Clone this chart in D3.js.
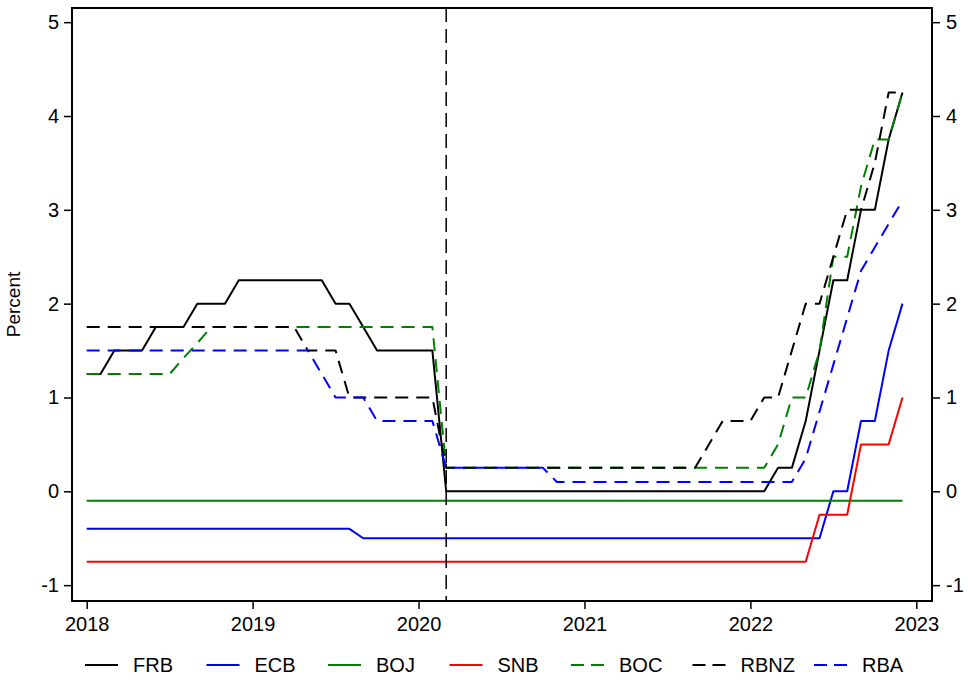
<!DOCTYPE html>
<html>
<head>
<meta charset="utf-8">
<script src="https://cdn.jsdelivr.net/npm/d3@7"></script>
<style>
body { margin: 0; background: #fff; }
svg { font-family: "Liberation Sans", Arial, sans-serif; }
</style>
</head>
<body>
<svg id="chart" width="968" height="686"></svg>
<script>
// monthly, Jan 2018 - Dec 2022
var startYear = 2018
var yearTicks = [2018, 2019, 2020, 2021, 2022, 2023]
var pctTicks = [-1, 0, 1, 2, 3, 4, 5]
var markerDate = 2020 + 2 / 12   // March 2020

var frb = [1.25,1.25,1.5,1.5,1.5,1.75,1.75,1.75,2.0,2.0,2.0,2.25,
  2.25,2.25,2.25,2.25,2.25,2.25,2.0,2.0,1.75,1.5,1.5,1.5,
  1.5,1.5,0,0,0,0,0,0,0,0,0,0,
  0,0,0,0,0,0,0,0,0,0,0,0,
  0,0,0.25,0.25,0.75,1.5,2.25,2.25,3.0,3.0,3.75,4.25]
var ecb = [-0.4,-0.4,-0.4,-0.4,-0.4,-0.4,-0.4,-0.4,-0.4,-0.4,-0.4,-0.4,
  -0.4,-0.4,-0.4,-0.4,-0.4,-0.4,-0.4,-0.4,-0.5,-0.5,-0.5,-0.5,
  -0.5,-0.5,-0.5,-0.5,-0.5,-0.5,-0.5,-0.5,-0.5,-0.5,-0.5,-0.5,
  -0.5,-0.5,-0.5,-0.5,-0.5,-0.5,-0.5,-0.5,-0.5,-0.5,-0.5,-0.5,
  -0.5,-0.5,-0.5,-0.5,-0.5,-0.5,0,0,0.75,0.75,1.5,2.0]
var boj = [-0.1,-0.1,-0.1,-0.1,-0.1,-0.1,-0.1,-0.1,-0.1,-0.1,-0.1,-0.1,
  -0.1,-0.1,-0.1,-0.1,-0.1,-0.1,-0.1,-0.1,-0.1,-0.1,-0.1,-0.1,
  -0.1,-0.1,-0.1,-0.1,-0.1,-0.1,-0.1,-0.1,-0.1,-0.1,-0.1,-0.1,
  -0.1,-0.1,-0.1,-0.1,-0.1,-0.1,-0.1,-0.1,-0.1,-0.1,-0.1,-0.1,
  -0.1,-0.1,-0.1,-0.1,-0.1,-0.1,-0.1,-0.1,-0.1,-0.1,-0.1,-0.1]
var snb = [-0.75,-0.75,-0.75,-0.75,-0.75,-0.75,-0.75,-0.75,-0.75,-0.75,-0.75,-0.75,
  -0.75,-0.75,-0.75,-0.75,-0.75,-0.75,-0.75,-0.75,-0.75,-0.75,-0.75,-0.75,
  -0.75,-0.75,-0.75,-0.75,-0.75,-0.75,-0.75,-0.75,-0.75,-0.75,-0.75,-0.75,
  -0.75,-0.75,-0.75,-0.75,-0.75,-0.75,-0.75,-0.75,-0.75,-0.75,-0.75,-0.75,
  -0.75,-0.75,-0.75,-0.75,-0.75,-0.25,-0.25,-0.25,0.5,0.5,0.5,1.0]
var boc = [1.25,1.25,1.25,1.25,1.25,1.25,1.25,1.42,1.58,1.75,1.75,1.75,
  1.75,1.75,1.75,1.75,1.75,1.75,1.75,1.75,1.75,1.75,1.75,1.75,
  1.75,1.75,0.25,0.25,0.25,0.25,0.25,0.25,0.25,0.25,0.25,0.25,
  0.25,0.25,0.25,0.25,0.25,0.25,0.25,0.25,0.25,0.25,0.25,0.25,
  0.25,0.25,0.5,1.0,1.0,1.5,2.5,2.5,3.25,3.75,3.75,4.25]
var rbnz = [1.75,1.75,1.75,1.75,1.75,1.75,1.75,1.75,1.75,1.75,1.75,1.75,
  1.75,1.75,1.75,1.75,1.5,1.5,1.5,1.0,1.0,1.0,1.0,1.0,
  1.0,1.0,0.25,0.25,0.25,0.25,0.25,0.25,0.25,0.25,0.25,0.25,
  0.25,0.25,0.25,0.25,0.25,0.25,0.25,0.25,0.25,0.5,0.75,0.75,
  0.75,1.0,1.0,1.5,2.0,2.0,2.5,3.0,3.0,3.5,4.25,4.25]
var rba = [1.5,1.5,1.5,1.5,1.5,1.5,1.5,1.5,1.5,1.5,1.5,1.5,
  1.5,1.5,1.5,1.5,1.5,1.25,1.0,1.0,1.0,0.75,0.75,0.75,
  0.75,0.75,0.25,0.25,0.25,0.25,0.25,0.25,0.25,0.25,0.1,0.1,
  0.1,0.1,0.1,0.1,0.1,0.1,0.1,0.1,0.1,0.1,0.1,0.1,
  0.1,0.1,0.1,0.1,0.35,0.85,1.35,1.85,2.35,2.6,2.85,3.1]

var names = ["FRB", "ECB", "BOJ", "SNB", "BOC", "RBNZ", "RBA"]
var values = [frb, ecb, boj, snb, boc, rbnz, rba]
var colors = ["#000000", "#0000ff", "#008000", "#ff0000", "#008000", "#000000", "#0000ff"]
var dashed = [false, false, false, false, true, true, true]

var margins = {"top": 8, "left": 72, "bottom": 85, "right": 36}
var width = 968 - margins.left - margins.right
var height = 686 - margins.top - margins.bottom

var svg = d3.select("#chart")
var g = svg.append("g").attr("transform", "translate(" + margins.left + "," + margins.top + ")")

var x = d3.scaleLinear().domain([2017.9114, 2023.0945]).range([0, width])
var y = d3.scaleLinear().domain([-1.169, 5.151]).range([height, 0])

// plain hyphen for negatives, like the original
var fmt = function(d) { return String(d) }

//axes
var styleAxis = function(sel) {
  sel.select(".domain").remove()
  sel.selectAll(".tick line").attr("stroke", "#000").attr("stroke-width", 1.5)
  sel.selectAll(".tick text").attr("font-size", 20).attr("fill", "#000")
    .attr("font-family", "Liberation Sans, Arial, sans-serif")
}

g.append("g").attr("transform", "translate(0," + height + ")")
  .call(d3.axisBottom(x).tickValues(yearTicks).tickFormat(fmt).tickSize(8).tickPadding(8))
  .call(styleAxis)

g.append("g")
  .call(d3.axisLeft(y).tickValues(pctTicks).tickFormat(fmt).tickSize(8).tickPadding(5))
  .call(styleAxis)

g.append("g").attr("transform", "translate(" + width + ",0)")
  .call(d3.axisRight(y).tickValues(pctTicks).tickFormat(fmt).tickSize(8).tickPadding(6))
  .call(styleAxis)

g.append("rect")
  .attr("width", width).attr("height", height)
  .attr("fill", "none").attr("stroke", "#000").attr("stroke-width", 2)

g.append("text")
  .attr("transform", "translate(-52," + (height / 2) + ") rotate(-90)")
  .attr("text-anchor", "middle")
  .attr("font-size", 19)
  .text("Percent")

//series
var line = d3.line()
  .x(function(d, i) { return x(startYear + i / 12) })
  .y(function(d) { return y(d) })

values.forEach(function(v, k) {
  g.append("path")
    .datum(v)
    .attr("d", line)
    .attr("fill", "none")
    .attr("stroke", colors[k])
    .attr("stroke-width", 2)
    .attr("stroke-linejoin", "round")
    .attr("stroke-dasharray", dashed[k] ? "13,8" : null)
})

//March 2020 marker
g.append("line")
  .attr("x1", x(markerDate)).attr("x2", x(markerDate))
  .attr("y1", 0).attr("y2", height)
  .attr("stroke", "#000").attr("stroke-width", 1.5)
  .attr("stroke-dasharray", "14,7")

//legend
var legend = svg.append("g").attr("transform", "translate(85,665)")
var item = legend.selectAll("g").data(names).enter().append("g")
  .attr("transform", function(d, i) { return "translate(" + (i * 121.5) + ",0)" })

item.append("line")
  .attr("x1", 0).attr("x2", 33)
  .attr("stroke", function(d, i) { return colors[i] })
  .attr("stroke-width", 2)
  .attr("stroke-dasharray", function(d, i) { return dashed[i] ? "13,7" : null })

item.append("text")
  .attr("x", 48).attr("dy", "0.35em")
  .attr("font-size", 20)
  .text(function(d) { return d })
</script>
</body>
</html>
